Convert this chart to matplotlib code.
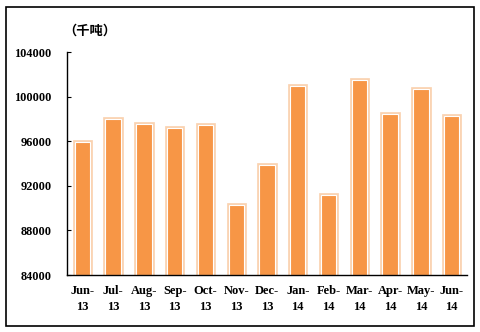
import matplotlib.pyplot as plt
import matplotlib.patheffects as pe
from matplotlib.patches import Rectangle

plt.rcParams["font.family"] = ["Liberation Serif", "Noto Sans CJK SC"]
plt.rcParams["font.weight"] = "bold"

months = ["Jun-\n13", "Jul-\n13", "Aug-\n13", "Sep-\n13", "Oct-\n13", "Nov-\n13",
          "Dec-\n13", "Jan-\n14", "Feb-\n14", "Mar-\n14", "Apr-\n14", "May-\n14", "Jun-\n14"]
output = [95900, 97950, 97550, 97200, 97450, 90300, 93850,
          100950, 91150, 101500, 98450, 100700, 98250]
yticks = [84000, 88000, 92000, 96000, 100000, 104000]

orange = "#F79646"
peach = "#FAD2B0"

fig = plt.figure(figsize=(4.81, 3.32), dpi=100)
fig.patches.append(Rectangle((6 / 481, 6 / 332), 468 / 481, 319 / 332,
                             transform=fig.transFigure, fill=False,
                             edgecolor="black", linewidth=1.2))

ax = fig.add_axes([67 / 481, 1 - 275 / 332, 400 / 481, 223 / 332])
x = range(len(months))
base = yticks[0]
bars = ax.bar(x, [v - base for v in output], bottom=base, width=0.5,
              color=orange, edgecolor="white", linewidth=0.8)
for b in bars:
    b.set_path_effects([pe.Stroke(linewidth=3.4, foreground=peach), pe.Normal()])

ax.set_xlim(-0.5, len(months) - 0.5)
ax.set_ylim(yticks[0], yticks[-1])
ax.set_yticks(yticks)
ax.set_yticklabels([str(t) for t in yticks])
ax.set_xticks(list(x))
ax.set_xticklabels(months, linespacing=1.45)
ax.tick_params(axis="y", direction="in", length=3, pad=11, labelsize=8.8)
ax.tick_params(axis="x", length=0, pad=7, labelsize=9)
for s in ["top", "right"]:
    ax.spines[s].set_visible(False)
ax.spines["left"].set_linewidth(1)
ax.spines["bottom"].set_linewidth(1)

fig.text(63 / 481, 1 - 31 / 332, "（千吨）", fontsize=9.5, va="center", ha="left")

fig.savefig("out.png", dpi=100)
